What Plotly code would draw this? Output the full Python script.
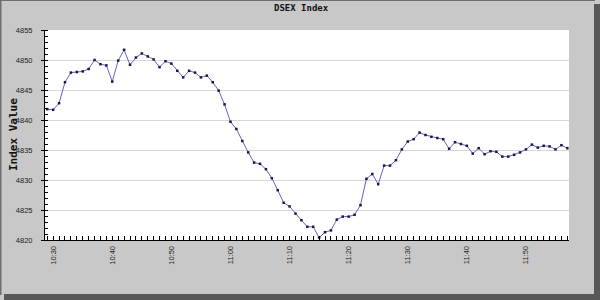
import plotly.graph_objects as go
import pandas as pd

# ---- data ----
start_time = "2024-01-01 10:29"
values = [
    4841.8, 4841.7, 4842.8, 4846.3, 4847.9, 4848.0, 4848.1, 4848.5, 4850.0, 4849.3,
    4849.1, 4846.4, 4849.9, 4851.7, 4849.2, 4850.4, 4851.1, 4850.6, 4850.1, 4848.8,
    4849.8, 4849.4, 4848.2, 4847.1, 4848.2,
    4847.9, 4847.1, 4847.4, 4846.3, 4844.9, 4842.6, 4839.7, 4838.5, 4836.5, 4834.6,
    4832.9, 4832.7, 4831.8, 4830.3, 4828.3, 4826.2, 4825.6, 4824.4, 4823.3, 4822.2,
    4822.2, 4820.4, 4821.3, 4821.6,
    4823.4, 4823.9, 4823.9, 4824.2, 4825.8, 4830.2, 4831.0, 4829.3, 4832.4, 4832.4,
    4833.3, 4835.1, 4836.4, 4836.8, 4837.9, 4837.5, 4837.2, 4837.0, 4836.8, 4835.2,
    4836.3, 4836.0, 4835.7, 4834.4, 4835.3,
    4834.3, 4834.8, 4834.7, 4833.9, 4833.9, 4834.2, 4834.6, 4835.1, 4835.9, 4835.4,
    4835.7, 4835.6, 4835.1, 4835.8, 4835.3,
]
times = pd.date_range(start_time, periods=len(values), freq="1min")

title_text = "DSEX Index"
y_title = "Index Value"
y_ticks = [4820, 4825, 4830, 4835, 4840, 4845, 4850, 4855]

W, H = 600, 300
L, R, T, B = 45, 31, 30, 60
pw, ph = W - L - R, H - T - B


def px_x(p):
    return (p - L) / pw


def px_y(p):
    return (H - B - p) / ph


fig = go.Figure()
fig.add_trace(go.Scatter(
    x=times, y=values, mode="lines+markers",
    line=dict(color="#6262d0", width=1),
    marker=dict(symbol="square", size=2.5, color="#1a1a40"),
    hoverinfo="x+y",
))

tick_font = dict(family="Liberation Sans, Arial, sans-serif", size=7.5, color="#222222")

fig.update_layout(
    width=W, height=H,
    margin=dict(l=L, r=R, t=T, b=B, pad=0),
    paper_bgcolor="#c8c8c8",
    plot_bgcolor="#ffffff",
    showlegend=False,
    xaxis=dict(
        type="date",
        range=["2024-01-01 10:28:37", "2024-01-01 11:57:17"],
        tick0="2024-01-01 10:30", dtick=600000,
        tickformat="%H:%M", tickangle=-90,
        ticks="inside", ticklen=4, tickcolor="#000000",
        minor=dict(dtick=60000, ticks="inside", ticklen=4, tickcolor="#000000", showgrid=False),
        showgrid=False, zeroline=False,
        showline=True, linecolor="#000000", linewidth=1,
        tickfont=tick_font, ticklabelstandoff=2,
    ),
    yaxis=dict(
        range=[4820, 4855],
        tickvals=y_ticks,
        ticks="outside", ticklen=3, tickcolor="#000000",
        minor=dict(dtick=1, ticks="inside", ticklen=3, tickcolor="#000000", showgrid=False),
        showgrid=True, gridcolor="#d8d8d8", gridwidth=1,
        zeroline=False,
        showline=True, linecolor="#000000", linewidth=1,
        tickfont=tick_font, ticklabelstandoff=7,
    ),
    annotations=[
        dict(text="<b>%s</b>" % title_text, xref="paper", yref="paper",
             x=px_x(301), y=px_y(8.5), xanchor="center", yanchor="middle",
             showarrow=False,
             font=dict(family="DejaVu Sans Mono, monospace", size=9, color="#111111")),
        dict(text="<b>%s</b>" % y_title, xref="paper", yref="paper",
             x=px_x(13), y=0.5, xanchor="center", yanchor="middle",
             textangle=-90, showarrow=False,
             font=dict(family="DejaVu Sans Mono, monospace", size=11, color="#111111")),
    ],
    shapes=[
        # outer frame lines (top/left)
        dict(type="rect", xref="paper", yref="paper",
             x0=px_x(0), x1=px_x(595), y0=px_y(0), y1=px_y(1),
             fillcolor="#6e6e6e", line=dict(width=0), layer="below"),
        dict(type="rect", xref="paper", yref="paper",
             x0=px_x(0), x1=px_x(1.5), y0=px_y(0), y1=px_y(295),
             fillcolor="#6e6e6e", line=dict(width=0), layer="below"),
        # drop shadow right and bottom
        dict(type="rect", xref="paper", yref="paper",
             x0=px_x(594), x1=px_x(601), y0=px_y(4), y1=px_y(301),
             fillcolor="#585858", line=dict(width=0), layer="below"),
        dict(type="rect", xref="paper", yref="paper",
             x0=px_x(4), x1=px_x(601), y0=px_y(294), y1=px_y(301),
             fillcolor="#585858", line=dict(width=0), layer="below"),
    ],
)

fig.write_html("out.html")
